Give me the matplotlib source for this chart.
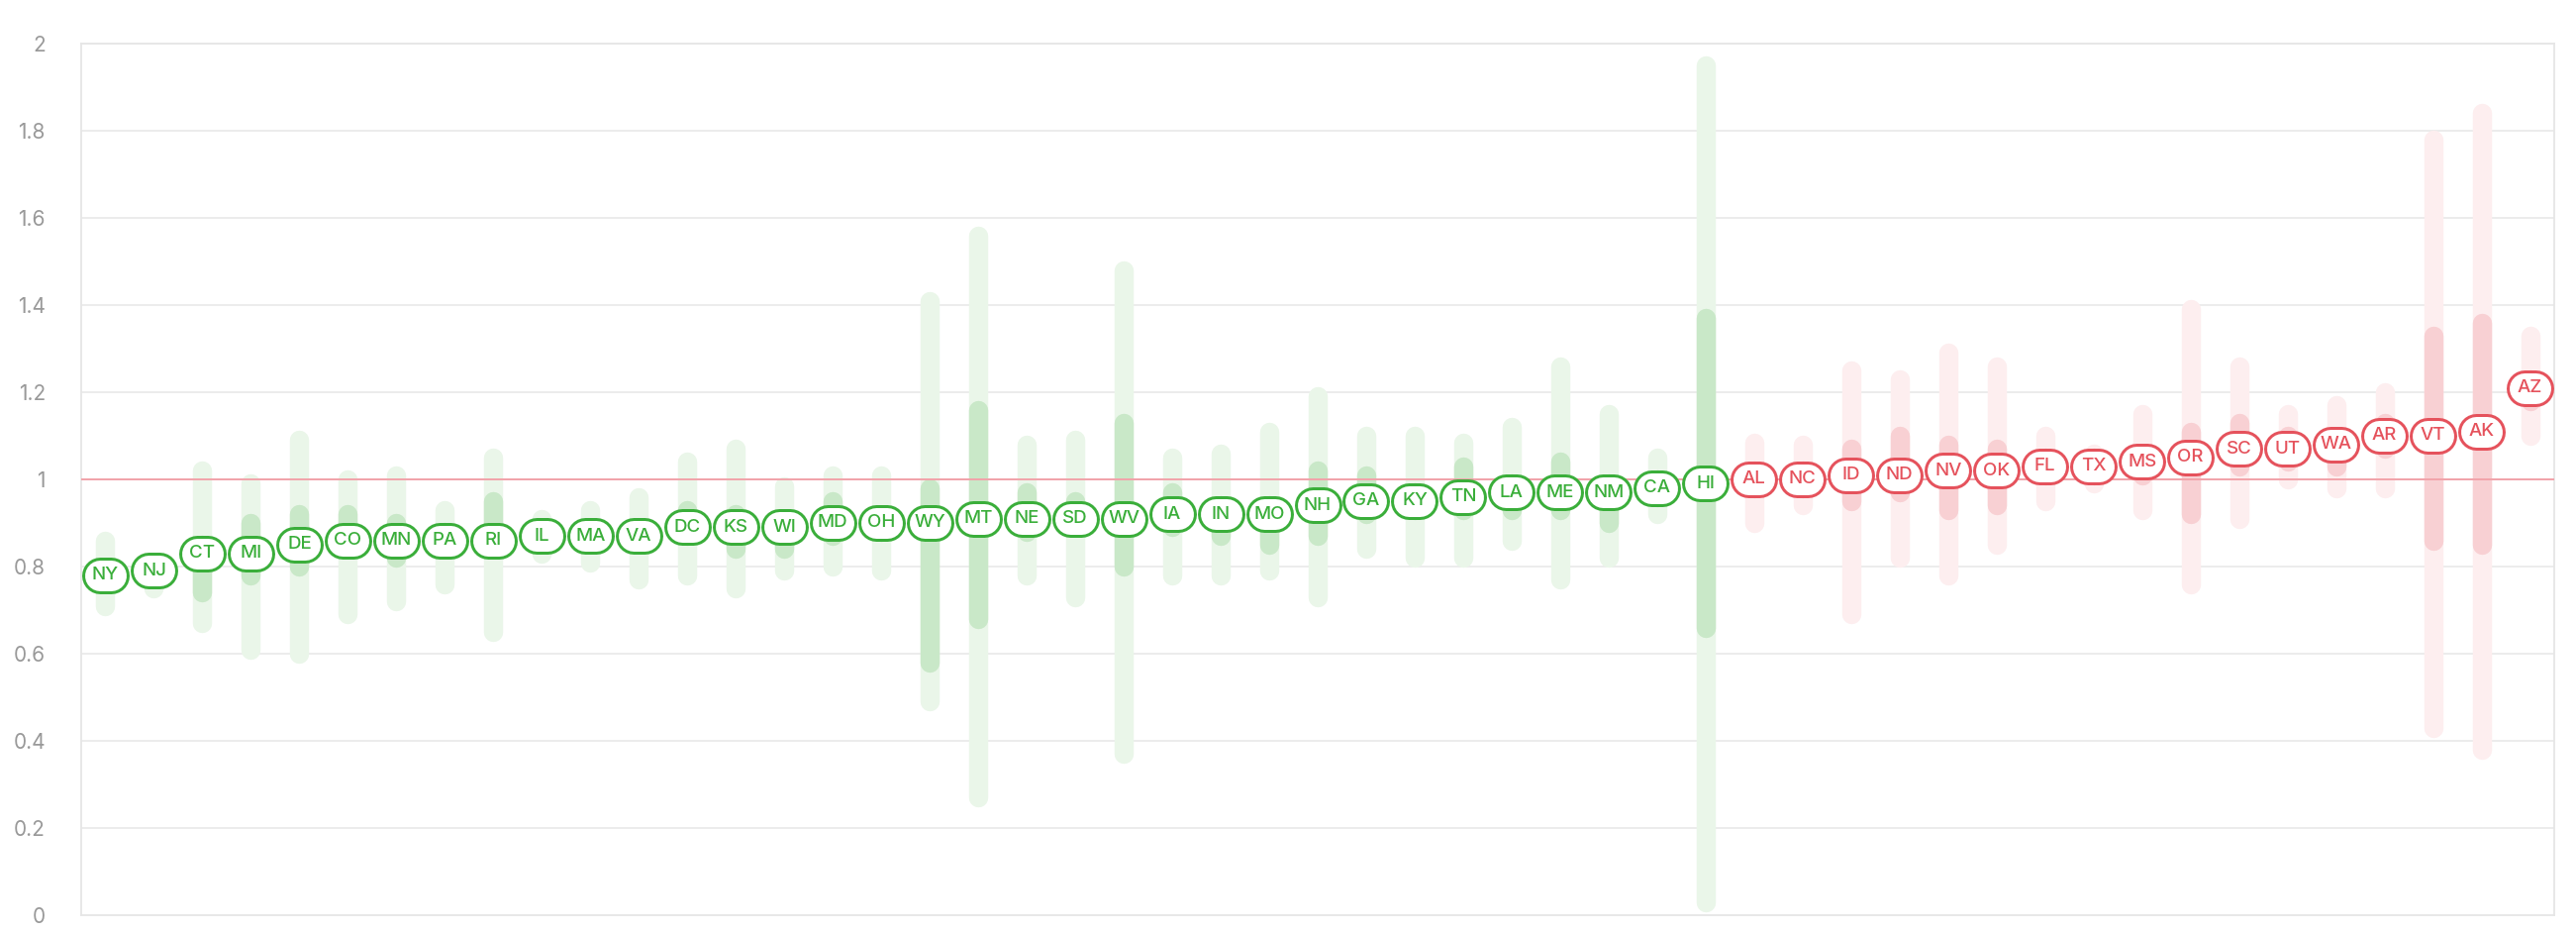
import numpy as np
import matplotlib
matplotlib.use("Agg")
import matplotlib.pyplot as plt

# states sorted by point value
states = ['NY', 'NJ', 'CT', 'MI', 'DE', 'CO', 'MN', 'PA', 'RI', 'IL', 'MA', 'VA',
          'DC', 'KS', 'WI', 'MD', 'OH', 'WY', 'MT', 'NE', 'SD', 'WV', 'IA', 'IN',
          'MO', 'NH', 'GA', 'KY', 'TN', 'LA', 'ME', 'NM', 'CA', 'HI', 'AL', 'NC',
          'ID', 'ND', 'NV', 'OK', 'FL', 'TX', 'MS', 'OR', 'SC', 'UT', 'WA', 'AR',
          'VT', 'AK', 'AZ']
value = [0.78, 0.79, 0.83, 0.83, 0.85, 0.86, 0.86, 0.86, 0.86, 0.87, 0.87, 0.87,
         0.89, 0.89, 0.89, 0.90, 0.90, 0.90, 0.91, 0.91, 0.91, 0.91, 0.92, 0.92,
         0.92, 0.94, 0.95, 0.95, 0.96, 0.97, 0.97, 0.97, 0.98, 0.99, 1.00, 1.00,
         1.01, 1.01, 1.02, 1.02, 1.03, 1.03, 1.04, 1.05, 1.07, 1.07, 1.08, 1.10,
         1.10, 1.11, 1.21]
outer_lo = [0.71, 0.75, 0.67, 0.61, 0.60, 0.69, 0.72, 0.76, 0.65, 0.83, 0.81, 0.77,
            0.78, 0.75, 0.79, 0.80, 0.79, 0.49, 0.27, 0.78, 0.73, 0.37, 0.78, 0.78,
            0.79, 0.73, 0.84, 0.82, 0.82, 0.86, 0.77, 0.82, 0.92, 0.03, 0.90, 0.94,
            0.69, 0.82, 0.78, 0.85, 0.95, 0.99, 0.93, 0.76, 0.91, 1.00, 0.98, 0.98,
            0.43, 0.38, 1.10]
outer_hi = [0.86, 0.81, 1.02, 0.99, 1.09, 1.00, 1.01, 0.93, 1.05, 0.91, 0.93, 0.96,
            1.04, 1.07, 0.985, 1.01, 1.01, 1.41, 1.56, 1.08, 1.09, 1.48, 1.05, 1.06,
            1.11, 1.19, 1.10, 1.10, 1.085, 1.12, 1.26, 1.15, 1.05, 1.95, 1.085, 1.08,
            1.25, 1.23, 1.29, 1.26, 1.10, 1.06, 1.15, 1.39, 1.26, 1.15, 1.17, 1.20,
            1.78, 1.84, 1.33]
inner_lo = [0.77, 0.78, 0.74, 0.78, 0.80, 0.84, 0.82, 0.85, 0.85, 0.86, 0.86, 0.86,
            0.87, 0.84, 0.84, 0.87, 0.88, 0.58, 0.68, 0.88, 0.89, 0.80, 0.89, 0.87,
            0.85, 0.87, 0.92, 0.93, 0.93, 0.93, 0.93, 0.90, 0.96, 0.66, 0.98, 0.98,
            0.95, 0.97, 0.93, 0.94, 1.01, 1.01, 1.01, 0.92, 1.03, 1.04, 1.03, 1.07,
            0.86, 0.85, 1.18]
inner_hi = [0.79, 0.80, 0.85, 0.90, 0.92, 0.92, 0.90, 0.88, 0.95, 0.88, 0.88, 0.88,
            0.93, 0.92, 0.89, 0.95, 0.91, 0.98, 1.16, 0.97, 0.95, 1.13, 0.97, 0.94,
            0.94, 1.02, 1.01, 0.97, 1.03, 0.99, 1.04, 0.99, 1.00, 1.37, 1.02, 1.02,
            1.07, 1.10, 1.08, 1.07, 1.05, 1.05, 1.06, 1.11, 1.13, 1.10, 1.08, 1.13,
            1.33, 1.36, 1.23]

GREEN = '#3aae3a'
RED = '#e5525c'
GREEN_OUT, GREEN_IN = '#eaf6e9', '#c9e8c8'
RED_OUT, RED_IN = '#fdeeef', '#f8d0d3'

W, H, DPI = 2602, 942, 100
fig = plt.figure(figsize=(W / DPI, H / DPI), dpi=DPI)
ax = fig.add_axes([82 / W, 18 / H, (2580 - 82) / W, (924 - 44) / H])

x = np.arange(len(states))
ax.set_xlim(-0.5, len(states) - 0.5)
ax.set_ylim(0, 2)

for y in np.arange(0.2, 2.01, 0.2):
    ax.axhline(y, color='#ebebeb', lw=1.3, zorder=0)

above = np.array(value) >= 1.0
out_cols = [RED_OUT if a else GREEN_OUT for a in above]
in_cols = [RED_IN if a else GREEN_IN for a in above]
edge_cols = [RED if a else GREEN for a in above]

ax.vlines(x, outer_lo, outer_hi, colors=out_cols, lw=14, capstyle='round', zorder=1)
ax.vlines(x, inner_lo, inner_hi, colors=in_cols, lw=14, capstyle='round', zorder=2)
ax.axhline(1.0, color='#f2a3aa', lw=1.4, zorder=3)

# pill labels: a fat round-capped line for the border, a thinner white one inside
px_x = (2580 - 82) / len(states)
half = 5.5 / px_x  # half the straight part of the pill, in x units
pt = 72 / DPI
for xi, v, s, c in zip(x, value, states, edge_cols):
    ax.plot([xi - half, xi + half], [v, v], color=c, lw=37 * pt,
            solid_capstyle='round', zorder=4)
    ax.plot([xi - half, xi + half], [v, v], color='white', lw=31 * pt,
            solid_capstyle='round', zorder=4)
    ax.text(xi, v, s, color=c, ha='center', va='center', fontsize=13.5,
            family='Inter', fontweight='medium', zorder=5)

ax.set_yticks(np.arange(0, 2.01, 0.2))
ax.set_yticklabels([f"{t:.1f}".rstrip('0').rstrip('.') for t in np.arange(0, 2.01, 0.2)])
ax.set_xticks([])
ax.tick_params(axis='y', length=0, pad=26, labelsize=15, labelcolor='#999999')
for lab in ax.get_yticklabels():
    lab.set_family('Inter')
for sp in ax.spines.values():
    sp.set_color('#e6e6e6')
    sp.set_linewidth(1.3)

fig.savefig('out.png', dpi=DPI)
